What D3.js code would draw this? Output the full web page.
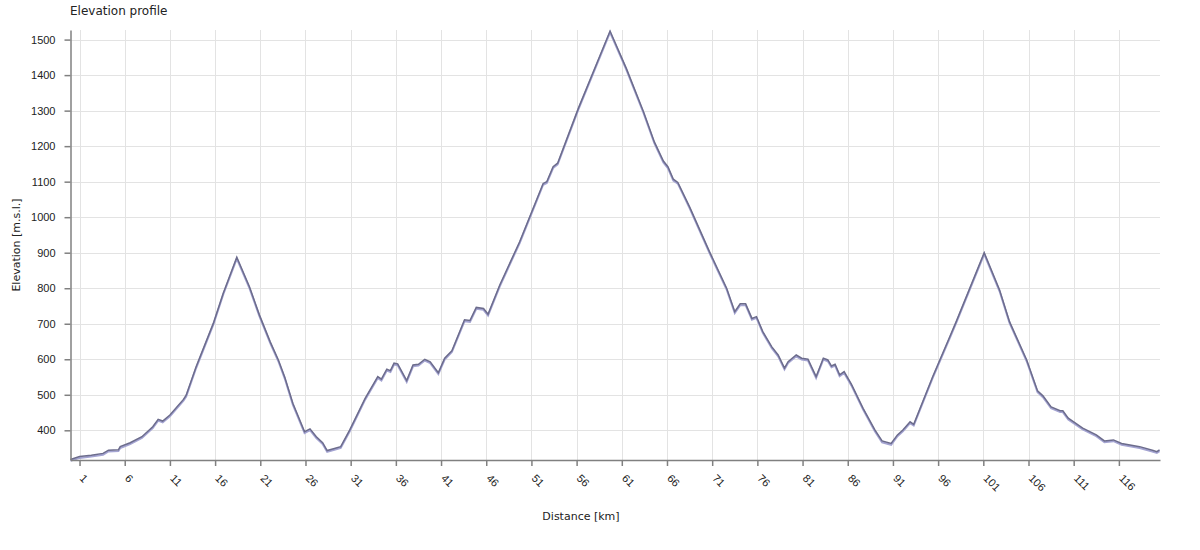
<!DOCTYPE html>
<html>
<head>
<meta charset="utf-8">
<script src="https://cdn.jsdelivr.net/npm/d3@7"></script>
<style>
  html, body { margin: 0; padding: 0; background: #fff; }
  svg { display: block; font-family: "DejaVu Sans", sans-serif; }
</style>
</head>
<body>
<svg id="chart" width="1200" height="550"></svg>
<script>
// ---- data ----
const distanceKm = [0.0, 1.0, 2.3, 3.6, 4.2, 5.3, 5.5, 6.6, 7.9, 9.1, 9.7, 10.2, 11.0, 12.5, 12.8, 13.9, 15.8, 16.9, 18.4, 19.8,
  20.9, 22.1, 23.0, 23.7, 24.6, 25.9, 26.5, 27.2, 27.9, 28.4, 29.2, 29.9, 30.9, 32.6, 34.0, 34.4, 35.0, 35.4, 35.8, 36.2,
  37.2, 37.9, 38.5, 39.2, 39.8, 40.7, 41.4, 42.2, 43.6, 44.2, 44.9, 45.7, 46.2, 47.5, 49.7, 52.3, 52.7, 53.4, 53.9, 56.2,
  59.7, 61.5, 63.4, 64.6, 65.6, 66.1, 66.7, 67.2, 68.5, 70.7, 72.6, 73.5, 74.1, 74.7, 75.4, 75.9, 76.6, 77.6, 78.3, 79.0,
  79.4, 80.3, 80.9, 81.6, 82.5, 83.3, 83.8, 84.2, 84.6, 85.1, 85.6, 86.4, 87.7, 89.0, 89.8, 90.8, 91.5, 92.1, 92.9, 93.3,
  95.4, 97.3, 98.0, 101.1, 102.8, 103.9, 105.8, 107.0, 107.6, 108.5, 109.5, 109.8, 110.4, 112.0, 113.5, 114.4, 115.4, 116.3,
  118.3, 119.8, 120.2, 120.5];
const elevationM = [318, 326, 330, 335, 344, 345, 354, 365, 382, 410, 431, 426, 443, 487, 499, 579, 701, 786, 887, 804,
  725, 649, 598, 550, 476, 396, 404, 382, 365, 343, 349, 354, 401, 490, 551, 544, 572, 568, 589, 587,
  540, 584, 586, 600, 593, 562, 603, 624, 711, 709, 746, 743, 727, 809, 931, 1095, 1100, 1142, 1152, 1307,
  1524, 1419, 1297, 1212, 1158, 1142, 1107, 1098, 1029, 903, 800, 734, 756, 756, 715, 720, 678, 635, 612, 575,
  593, 612, 603, 600, 551, 603, 598, 581, 586, 556, 565, 530, 462, 401, 370, 363, 387, 401, 424, 417,
  551, 664, 706, 900, 795, 706, 598, 511, 497, 466, 455, 455, 434, 406, 387, 370, 373, 363,
  354, 343, 340, 345];
const xTickValues = [1, 6, 11, 16, 21, 26, 31, 36, 41, 46, 51, 56, 61, 66, 71, 76, 81, 86, 91, 96, 101, 106, 111, 116];
const yTickValues = [400, 500, 600, 700, 800, 900, 1000, 1100, 1200, 1300, 1400, 1500];
const titleText = "Elevation profile";
const xLabel = "Distance [km]";
const yLabel = "Elevation [m.s.l.]";

// ---- layout ----
const svg = d3.select("#chart");
const plotLeft = 70.5, plotRight = 1160, plotTop = 30, plotBottom = 460;
const x = d3.scaleLinear().domain([0, 120.55]).range([plotLeft, plotRight]);
const y = d3.scaleLinear().domain([316.4, 1527]).range([plotBottom, plotTop]);

const points = distanceKm.map((d, i) => ({ d, e: elevationM[i] }));

// grid
const grid = svg.append("g");
grid.selectAll("line.v").data(xTickValues).enter().append("line")
  .attr("x1", d => Math.round(x(d)) + 0.5).attr("x2", d => Math.round(x(d)) + 0.5)
  .attr("y1", plotTop).attr("y2", plotBottom)
  .attr("stroke", "#e3e3e3").attr("stroke-width", 1);
grid.selectAll("line.h").data(yTickValues).enter().append("line")
  .attr("x1", plotLeft).attr("x2", plotRight)
  .attr("y1", d => Math.round(y(d)) + 0.5).attr("y2", d => Math.round(y(d)) + 0.5)
  .attr("stroke", "#e3e3e3").attr("stroke-width", 1);

// line
const line = d3.line().x(p => x(p.d)).y(p => y(p.e)).curve(d3.curveLinear);
svg.append("path").datum(points)
  .attr("d", line).attr("fill", "none")
  .attr("stroke", "#a4a4d2").attr("stroke-width", 2)
  .attr("transform", "translate(0,1.3)");
svg.append("path").datum(points)
  .attr("d", line).attr("fill", "none")
  .attr("stroke", "#6c6c8c").attr("stroke-width", 1.5);

// axes
const xAxis = d3.axisBottom(x).tickValues(xTickValues).tickSize(6).tickSizeOuter(0).tickFormat(d3.format("d"));
const gx = svg.append("g").attr("transform", `translate(0,${plotBottom})`).call(xAxis);
gx.select(".domain").attr("stroke", "#808080").attr("stroke-width", 1.5);
gx.selectAll(".tick line").attr("stroke", "#808080").attr("stroke-width", 1.5);
gx.selectAll(".tick text")
  .attr("font-size", 11).attr("fill", "#222")
  .attr("text-anchor", "start")
  .attr("x", 0).attr("y", 0).attr("dy", 0)
  .attr("transform", "translate(-1,19) rotate(45)");

const yAxis = d3.axisLeft(y).tickValues(yTickValues).tickSize(6).tickSizeOuter(0).tickFormat(d3.format("d"));
const gy = svg.append("g").attr("transform", `translate(${plotLeft},0)`).call(yAxis);
gy.select(".domain").attr("stroke", "#808080").attr("stroke-width", 1.5);
gy.selectAll(".tick line").attr("stroke", "#808080").attr("stroke-width", 1.5);
gy.selectAll(".tick text").attr("font-size", 11).attr("fill", "#222").attr("x", -15);

// texts
svg.append("text").attr("x", 70).attr("y", 15).attr("font-size", 12).attr("fill", "#222").text(titleText);
svg.append("text").attr("x", 581).attr("y", 520).attr("text-anchor", "middle")
  .attr("font-size", 11).attr("fill", "#222").text(xLabel);
svg.append("text").attr("transform", `translate(20,${(plotTop + plotBottom) / 2}) rotate(-90)`)
  .attr("text-anchor", "middle").attr("font-size", 11).attr("fill", "#222").text(yLabel);
</script>
</body>
</html>
